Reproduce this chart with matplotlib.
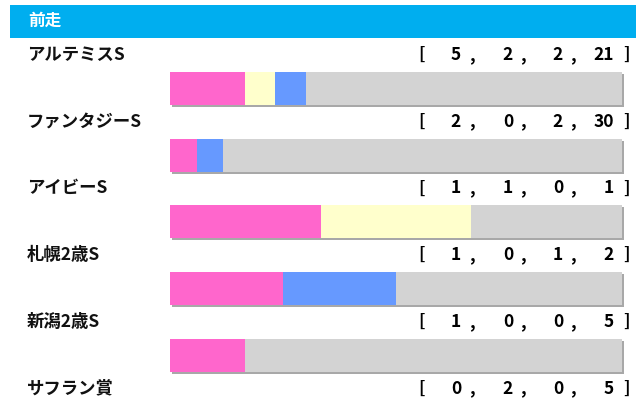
import matplotlib
matplotlib.use('Agg')
import matplotlib.pyplot as plt
from matplotlib.patches import Rectangle

plt.rcParams['font.family'] = ['Noto Sans CJK JP', 'DejaVu Sans']

title = '前走'
races = ['アルテミスS', 'ファンタジーS', 'アイビーS', '札幌2歳S', '新潟2歳S', 'サフラン賞']
first = [5, 2, 1, 1, 1, 0]
second = [2, 0, 1, 0, 0, 2]
third = [2, 2, 0, 1, 0, 0]
other = [21, 30, 1, 2, 5, 5]

colors = ['#FF66CC', '#FFFFCC', '#6699FF', '#D3D3D3']

W, H = 640, 400
fig = plt.figure(figsize=(W / 100, H / 100), dpi=100)
ax = fig.add_axes([0, 0, 1, 1])
ax.set_xlim(0, W)
ax.set_ylim(H, 0)
ax.axis('off')

# header
ax.add_patch(Rectangle((10, 5), 626, 33, color='#00AEEF', lw=0))
ax.text(28, 21, title, color='white', fontsize=12, fontweight='bold', va='center')

bar_x0, bar_w, bar_h = 170, 452, 33
row_pitch = 66.7
label_y0 = 55
bar_y0 = 72
num_right = [461, 513, 563, 614]
comma_x = [472, 523, 573]
fs = 12.5

for i, name in enumerate(races):
    ly = label_y0 + i * row_pitch
    ax.text(27, ly, name, fontsize=fs, fontweight='bold', va='center', color='#111111')
    vals = [first[i], second[i], third[i], other[i]]
    ax.text(421, ly, '[', fontsize=fs, fontweight='bold', va='center', ha='center')
    for j, v in enumerate(vals):
        ax.text(num_right[j], ly, str(v), fontsize=fs, fontweight='bold', va='center', ha='right')
    for cx in comma_x:
        ax.text(cx, ly, ',', fontsize=fs, fontweight='bold', va='center', ha='center')
    ax.text(626, ly, ']', fontsize=fs, fontweight='bold', va='center', ha='center')

    by = bar_y0 + i * row_pitch
    total = sum(vals)
    # shadow
    ax.add_patch(Rectangle((bar_x0 + 2, by + 2), bar_w, bar_h, color='#A8A8A8', lw=0))
    left = 0
    for v, c in zip(vals, colors):
        if v:
            ax.barh(by + bar_h / 2, v / total * bar_w, height=bar_h,
                    left=bar_x0 + left / total * bar_w, color=c, lw=0)
        left += v

fig.savefig('out.png', dpi=100)
